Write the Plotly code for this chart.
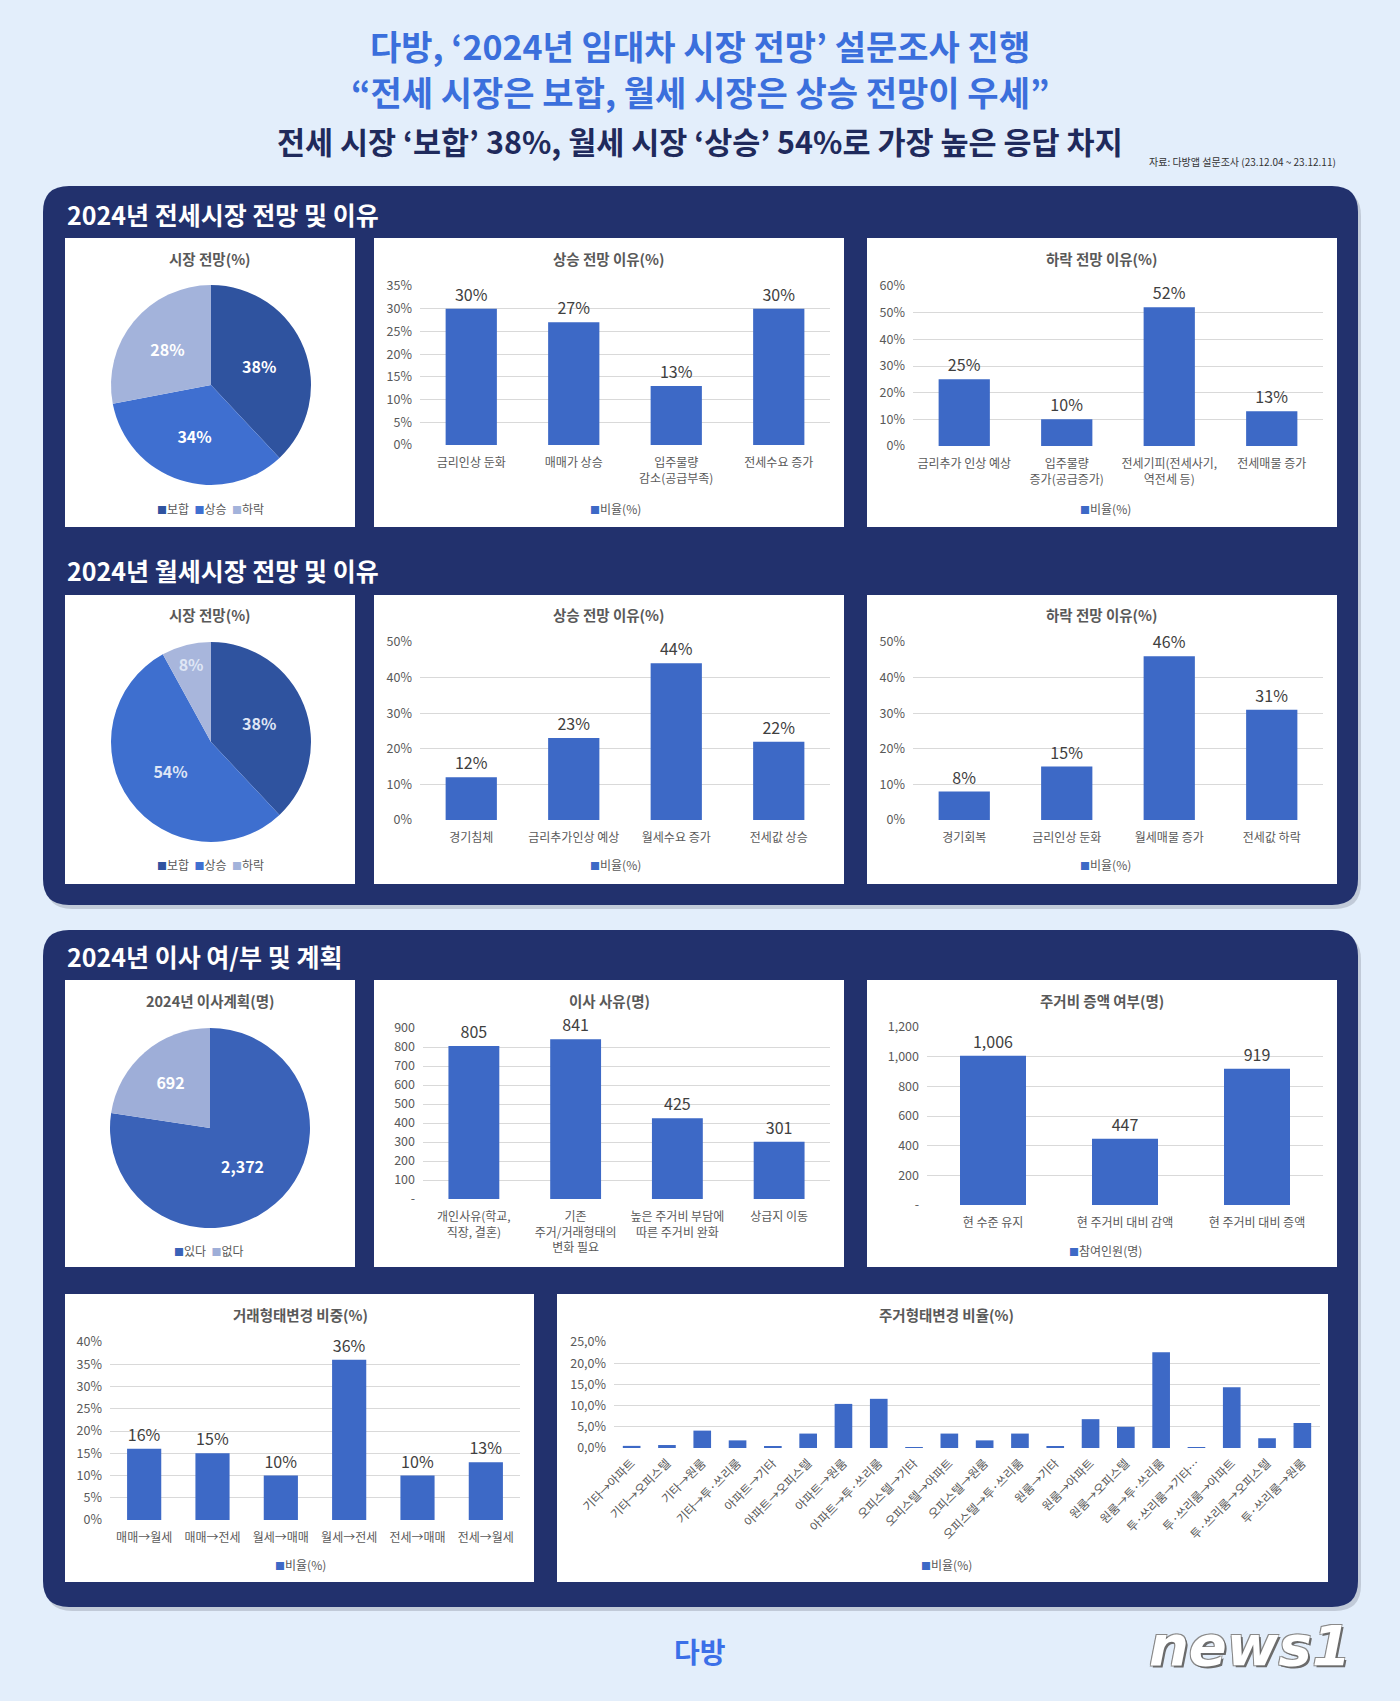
import plotly.graph_objects as go

# ---------------- data ----------------
jeonse_outlook_labels = ["보합", "상승", "하락"]
jeonse_outlook_values = [38, 34, 28]
jeonse_up_cats = ["금리인상 둔화", "매매가 상승", "입주물량<br>감소(공급부족)", "전세수요 증가"]
jeonse_up_vals = [30, 27, 13, 30]
jeonse_down_cats = ["금리추가 인상 예상", "입주물량<br>증가(공급증가)", "전세기피(전세사기,<br>역전세 등)", "전세매물 증가"]
jeonse_down_vals = [25, 10, 52, 13]

wolse_outlook_labels = ["보합", "상승", "하락"]
wolse_outlook_values = [38, 54, 8]
wolse_up_cats = ["경기침체", "금리추가인상 예상", "월세수요 증가", "전세값 상승"]
wolse_up_vals = [12, 23, 44, 22]
wolse_down_cats = ["경기회복", "금리인상 둔화", "월세매물 증가", "전세값 하락"]
wolse_down_vals = [8, 15, 46, 31]

move_plan_labels = ["있다", "없다"]
move_plan_values = [2372, 692]
move_reason_cats = ["개인사유(학교,<br>직장, 결혼)", "기존<br>주거/거래형태의<br>변화 필요",
                    "높은 주거비 부담에<br>따른 주거비 완화", "상급지 이동"]
move_reason_vals = [805, 841, 425, 301]
cost_cats = ["현 수준 유지", "현 주거비 대비 감액", "현 주거비 대비 증액"]
cost_vals = [1006, 447, 919]
deal_cats = ["매매→월세", "매매→전세", "월세→매매", "월세→전세", "전세→매매", "전세→월세"]
deal_vals = [16, 15, 10, 36, 10, 13]
house_cats = ["기타→아파트", "기타→오피스텔", "기타→원룸", "기타→투·쓰리룸", "아파트→기타",
              "아파트→오피스텔", "아파트→원룸", "아파트→투·쓰리룸", "오피스텔→기타", "오피스텔→아파트",
              "오피스텔→원룸", "오피스텔→투·쓰리룸", "원룸→기타", "원룸→아파트", "원룸→오피스텔",
              "원룸→투·쓰리룸", "투·쓰리룸→기타…", "투·쓰리룸→아파트", "투·쓰리룸→오피스텔", "투·쓰리룸→원룸"]
house_vals = [0.5, 0.7, 4.1, 1.8, 0.3, 3.4, 10.4, 11.6, 0.1, 3.4,
              1.8, 3.4, 0.3, 6.8, 5.0, 22.6, 0.1, 14.3, 2.3, 5.9]

ticks_35 = [0, 5, 10, 15, 20, 25, 30, 35]
ticks_60 = [0, 10, 20, 30, 40, 50, 60]
ticks_50 = [0, 10, 20, 30, 40, 50]
ticks_40 = [0, 5, 10, 15, 20, 25, 30, 35, 40]
ticks_900 = [0, 100, 200, 300, 400, 500, 600, 700, 800, 900]
ticks_1200 = [0, 200, 400, 600, 800, 1000, 1200]
ticks_25 = [0, 5, 10, 15, 20, 25]

# ---------------- styling helpers ----------------
W, H = 1400, 1701
FONT = "Noto Sans CJK KR"
BAR = "#3d69c6"
NAVY = "#22316d"
BG = "#e3eefb"
GRAY = "#595959"


def fx(x):
    return x / W


def fy(y):
    return 1 - y / H


shapes = []
annotations = []


def rect(x0, y0, x1, y1, fill):
    shapes.append(dict(type="rect", xref="paper", yref="paper", x0=fx(x0), x1=fx(x1),
                       y0=fy(y1), y1=fy(y0), fillcolor=fill, line=dict(width=0), layer="below"))


def rounded(x0, y0, x1, y1, r, fill):
    p = (f"M {fx(x0 + r)},{fy(y0)} L {fx(x1 - r)},{fy(y0)} Q {fx(x1)},{fy(y0)} {fx(x1)},{fy(y0 + r)} "
         f"L {fx(x1)},{fy(y1 - r)} Q {fx(x1)},{fy(y1)} {fx(x1 - r)},{fy(y1)} "
         f"L {fx(x0 + r)},{fy(y1)} Q {fx(x0)},{fy(y1)} {fx(x0)},{fy(y1 - r)} "
         f"L {fx(x0)},{fy(y0 + r)} Q {fx(x0)},{fy(y0)} {fx(x0 + r)},{fy(y0)} Z")
    shapes.append(dict(type="path", xref="paper", yref="paper", path=p, fillcolor=fill,
                       line=dict(width=0), layer="below"))


def text(x, y, s, size, color=GRAY, xanchor="center", bold=False, **kw):
    if bold:
        s = f"<b>{s}</b>"
    annotations.append(dict(x=fx(x), y=fy(y), xref="paper", yref="paper", text=s, showarrow=False,
                            xanchor=xanchor, yanchor="middle",
                            font=dict(family=FONT, size=size, color=color), **kw))


def legend(x, y, items):
    parts = [f"<span style='color:{c};font-size:10px'>■</span>{n}" for n, c in items]
    text(x, y, "  ".join(parts), 12)


# ---------------- panels ----------------
rounded(46, 190, 1361, 909, 26, "rgba(0,0,20,0.15)")
rounded(43, 186, 1358, 905, 26, NAVY)
rounded(46, 934, 1361, 1611, 26, "rgba(0,0,20,0.15)")
rounded(43, 930, 1358, 1607, 26, NAVY)

boxes = [
    (65, 238, 355, 527), (374, 238, 844, 527), (867, 238, 1337, 527),
    (65, 595, 355, 884), (374, 595, 844, 884), (867, 595, 1337, 884),
    (65, 980, 355, 1267), (374, 980, 844, 1267), (867, 980, 1337, 1267),
    (65, 1294, 534, 1582), (557, 1294, 1328, 1582),
]
for b in boxes:
    rect(*b, "white")

fig = go.Figure()

# ---------------- pies ----------------
pie_specs = [
    (jeonse_outlook_labels, jeonse_outlook_values, ["#2f539f", "#3f6fd0", "#a3b3db"],
     "%{percent:.0%}", (211, 385), ["white", "white", "white"]),
    (wolse_outlook_labels, wolse_outlook_values, ["#2f539f", "#3e6fcf", "#a8b6dc"],
     "%{percent:.0%}", (211, 742), ["#dfe6f5", "#dfe6f5", "#dfe6f5"]),
    (move_plan_labels, move_plan_values, ["#3a62b8", "#9eaed8"],
     "%{value:,}", (210, 1128), ["white", "white"]),
]
for labels, values, colors, tt, (cx, cy), tcol in pie_specs:
    r = 100
    fig.add_trace(go.Pie(labels=labels, values=values, sort=False, direction="clockwise", rotation=0,
                         marker=dict(colors=colors, line=dict(width=0)), texttemplate=tt,
                         textposition="inside", insidetextorientation="horizontal",
                         textfont=dict(family=FONT, size=16, color=tcol, weight="bold"),
                         domain=dict(x=[fx(cx - r), fx(cx + r)], y=[fy(cy + r), fy(cy - r)]),
                         showlegend=False, hoverinfo="label+value"))

# ---------------- bars ----------------
bar_specs = [
    dict(cats=jeonse_up_cats, vals=jeonse_up_vals, fmt="pct", ticks=ticks_35, area=(420, 286, 830, 445)),
    dict(cats=jeonse_down_cats, vals=jeonse_down_vals, fmt="pct", ticks=ticks_60, area=(913, 286, 1323, 446)),
    dict(cats=wolse_up_cats, vals=wolse_up_vals, fmt="pct", ticks=ticks_50, area=(420, 642, 830, 820)),
    dict(cats=wolse_down_cats, vals=wolse_down_vals, fmt="pct", ticks=ticks_50, area=(913, 642, 1323, 820)),
    dict(cats=move_reason_cats, vals=move_reason_vals, fmt="cnt", ticks=ticks_900, area=(423, 1028, 830, 1199)),
    dict(cats=cost_cats, vals=cost_vals, fmt="cnt", ticks=ticks_1200, area=(927, 1027, 1323, 1205)),
    dict(cats=deal_cats, vals=deal_vals, fmt="pct", ticks=ticks_40, area=(110, 1342, 520, 1520)),
    dict(cats=house_cats, vals=house_vals, fmt="dec", ticks=ticks_25, area=(614, 1342, 1320, 1448)),
]

layout_axes = {}
for i, s in enumerate(bar_specs, start=1):
    suf = "" if i == 1 else str(i)
    x0, y0, x1, y1 = s["area"]
    if s["fmt"] == "pct":
        labels = [f"{v}%" for v in s["vals"]]
        ticktext = [f"{t}%" for t in s["ticks"]]
    elif s["fmt"] == "cnt":
        labels = [f"{v:,}" for v in s["vals"]]
        ticktext = ["-" if t == 0 else f"{t:,}" for t in s["ticks"]]
    else:
        labels = None
        ticktext = [f"{t:.1f}%".replace(".", ",") for t in s["ticks"]]
    rotated = s["fmt"] == "dec"
    fig.add_trace(go.Bar(x=s["cats"], y=s["vals"], xaxis="x" + suf, yaxis="y" + suf,
                         text=labels, textposition="outside" if labels else "none",
                         constraintext="none", cliponaxis=False,
                         textfont=dict(family=FONT, size=16, color="#404040"),
                         marker=dict(color=BAR, line=dict(width=0)), showlegend=False))
    layout_axes["xaxis" + suf] = dict(domain=[fx(x0), fx(x1)], anchor="y" + suf, showgrid=False,
                                      showline=False, ticks="", zeroline=False, type="category",
                                      automargin=False, ticklabelstandoff=5 if rotated else 9,
                                      tickangle=-45 if rotated else 0,
                                      tickfont=dict(family=FONT, size=12, color=GRAY))
    layout_axes["yaxis" + suf] = dict(domain=[fy(y1), fy(y0)], anchor="x" + suf, range=[0, s["ticks"][-1]],
                                      tickvals=s["ticks"], ticktext=ticktext, showgrid=True,
                                      gridcolor="#d9d9d9", gridwidth=1, zeroline=False, showline=False,
                                      ticks="", ticklabelstandoff=7, automargin=False,
                                      tickfont=dict(family=FONT, size=12.5, color=GRAY))

# ---------------- texts ----------------
TBLUE = "#3b6fdc"
text(700, 45, "다방, ‘2024년 임대차 시장 전망’ 설문조사 진행", 34, TBLUE, bold=True)
text(700, 92, "“전세 시장은 보합, 월세 시장은 상승 전망이 우세”", 34, TBLUE, bold=True)
text(700, 141, "전세 시장 ‘보합’ 38%, 월세 시장 ‘상승’ 54%로 가장 높은 응답 차지", 30.5, "#1f2a5c", bold=True)
text(1338, 161, "자료: 다방앱 설문조사 (23.12.04 ~ 23.12.11)", 10, "#333333", xanchor="right")

text(65, 214, "2024년 전세시장 전망 및 이유", 25, "white", xanchor="left", bold=True)
text(65, 570, "2024년 월세시장 전망 및 이유", 25, "white", xanchor="left", bold=True)
text(65, 956, "2024년 이사 여/부 및 계획", 25, "white", xanchor="left", bold=True)

chart_titles = [
    (210, 258, "시장 전망(%)"), (609, 258, "상승 전망 이유(%)"), (1102, 258, "하락 전망 이유(%)"),
    (210, 615, "시장 전망(%)"), (609, 615, "상승 전망 이유(%)"), (1102, 615, "하락 전망 이유(%)"),
    (210, 1000, "2024년 이사계획(명)"), (609, 1000, "이사 사유(명)"), (1102, 1000, "주거비 증액 여부(명)"),
    (300, 1314, "거래형태변경 비중(%)"), (946, 1314, "주거형태변경 비율(%)"),
]
for x, y, t in chart_titles:
    text(x, y, t, 14.5, GRAY, bold=True)

pie_leg = [("보합", "#2f539f"), ("상승", "#3f6fd0"), ("하락", "#a3b3db")]
legend(210, 508, pie_leg)
legend(210, 865, pie_leg)
legend(209, 1250, [("있다", "#3a62b8"), ("없다", "#9eaed8")])
bar_leg = [("비율(%)", BAR)]
legend(615, 508, bar_leg)
legend(1105, 508, bar_leg)
legend(615, 865, bar_leg)
legend(1105, 865, bar_leg)
legend(1105, 1250, [("참여인원(명)", BAR)])
legend(300, 1564, bar_leg)
legend(946, 1564, bar_leg)

# logos as text
text(700, 1651, "다방", 28, "#3b6fe8", bold=True)
annotations.append(dict(x=fx(1250), y=fy(1645), xref="paper", yref="paper", showarrow=False,
                        text="<b><i>news1</i></b>", xanchor="center", yanchor="middle",
                        font=dict(family="DejaVu Sans", size=56, color="white",
                                  shadow="2px 2px 0 #6b6b6b, -1px -1px 0 #8a8a8a, 1px -1px 0 #8a8a8a, -1px 1px 0 #8a8a8a")))

fig.update_layout(
    width=W, height=H, margin=dict(l=0, r=0, t=0, b=0, pad=0, autoexpand=False),
    paper_bgcolor=BG, plot_bgcolor="rgba(0,0,0,0)",
    bargap=0.5, shapes=shapes, annotations=annotations,
    font=dict(family=FONT, color=GRAY), **layout_axes,
)

fig.write_html("out.html", config={"displayModeBar": False},
               post_script="document.body.style.margin='0';document.body.style.overflow='hidden';")
